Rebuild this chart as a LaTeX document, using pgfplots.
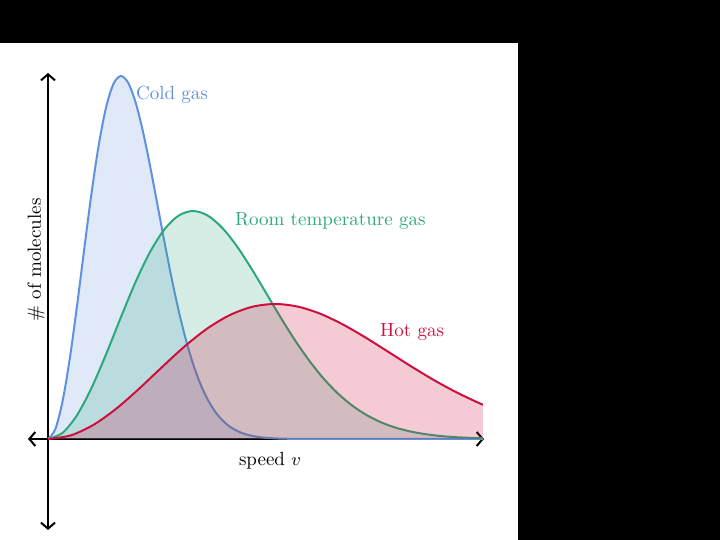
\documentclass[border=0pt]{standalone}
\usepackage{pgfplots}
\pgfplotsset{compat=1.18}
\usetikzlibrary{arrows.meta}
\definecolor{coldc}{RGB}{95,145,222}
\definecolor{roomc}{RGB}{45,168,125}
\definecolor{hotc}{RGB}{205,15,60}
\pgfplotstableread{
x y
48 101
55.3 110.8
62.6 138.9
69.9 182.2
77.2 235.5
84.5 293.1
91.8 348.8
99.1 397.2
106.4 434.0
113.7 456.6
121 464
128.3 457.0
135.6 437.6
142.9 408.7
150.2 373.4
157.5 335.0
164.8 296.3
172.1 259.5
179.4 226.2
186.7 197.3
194 173.3
201.3 153.9
208.6 138.8
215.9 127.3
223.2 118.9
230.5 112.9
237.8 108.7
245.1 105.9
252.4 104.05
259.7 102.85
267 102.1
281.6 101.36
303.5 101.06
340 101
483 101
}\cold
\pgfplotstableread{
x y
48 101
62.5 107.1
77 124.8
91.5 152.0
106 185.5
120.5 221.7
135 256.7
149.5 287.0
164 310.1
178.5 324.3
193 329
207.5 324.6
222 312.4
236.5 294.3
251 272.1
265.5 248.0
280 223.6
294.5 200.5
309 179.7
323.5 161.5
338 146.4
352.5 134.2
367 124.7
381.5 117.5
396 112.2
410.5 108.5
425 105.9
439.5 104.1
454 102.9
468.5 102.2
483 101.7
}\room
\pgfplotstableread{
x y
48 101
70.7 104.6
93.4 115.1
116.1 131.2
138.8 151.0
161.5 172.4
184.2 193.2
206.9 211.2
229.6 224.8
252.3 233.2
275 236
297.7 233.4
320.4 226.2
343.1 215.4
365.8 202.3
388.5 188.0
411.2 173.6
433.9 159.9
456.6 147.6
479.3 136.8
483 135.4
}\hot
\begin{document}
\begin{tikzpicture}[>={Straight Barb[length=3pt,width=7pt]}]
\begin{axis}[width=360pt,height=270pt,scale only axis,hide axis,clip=false,
 xmin=0,xmax=720,ymin=0,ymax=540]
% background as in the screenshot
\fill[black] (axis cs:0,0) rectangle (axis cs:720,540);
\fill[white] (axis cs:0,0) rectangle (axis cs:518,497);
% axes
\draw[line width=1pt,<->] (axis cs:28,101) -- (axis cs:484,101);
\draw[line width=1pt,<->] (axis cs:48,10) -- (axis cs:48,467);
% cold gas
\addplot[draw=none,smooth,fill=coldc,fill opacity=0.2] table {\cold} -- cycle;
\addplot[coldc,line width=1pt,smooth] table {\cold};
% room temperature gas
\addplot[draw=none,smooth,fill=roomc,fill opacity=0.2] table {\room} -- cycle;
\addplot[roomc,line width=1pt,smooth] table {\room};
% hot gas
\addplot[draw=none,smooth,fill=hotc,fill opacity=0.22] table {\hot} -- (axis cs:483,101) -- cycle;
\addplot[hotc,line width=1pt,smooth] table {\hot};
% labels
\node[coldc,anchor=west,font=\fontsize{9.5}{11}\selectfont] at (axis cs:129,445) {Cold gas};
\node[roomc,anchor=west,font=\fontsize{9.5}{11}\selectfont] at (axis cs:228,319) {Room temperature gas};
\node[hotc,anchor=west,font=\fontsize{9.5}{11}\selectfont] at (axis cs:373,208) {Hot gas};
\node[font=\fontsize{9.5}{11}\selectfont] at (axis cs:270,79) {speed $v$};
\node[rotate=90,font=\fontsize{9.5}{11}\selectfont] at (axis cs:36,280) {\# of molecules};
\end{axis}
\end{tikzpicture}
\end{document}
